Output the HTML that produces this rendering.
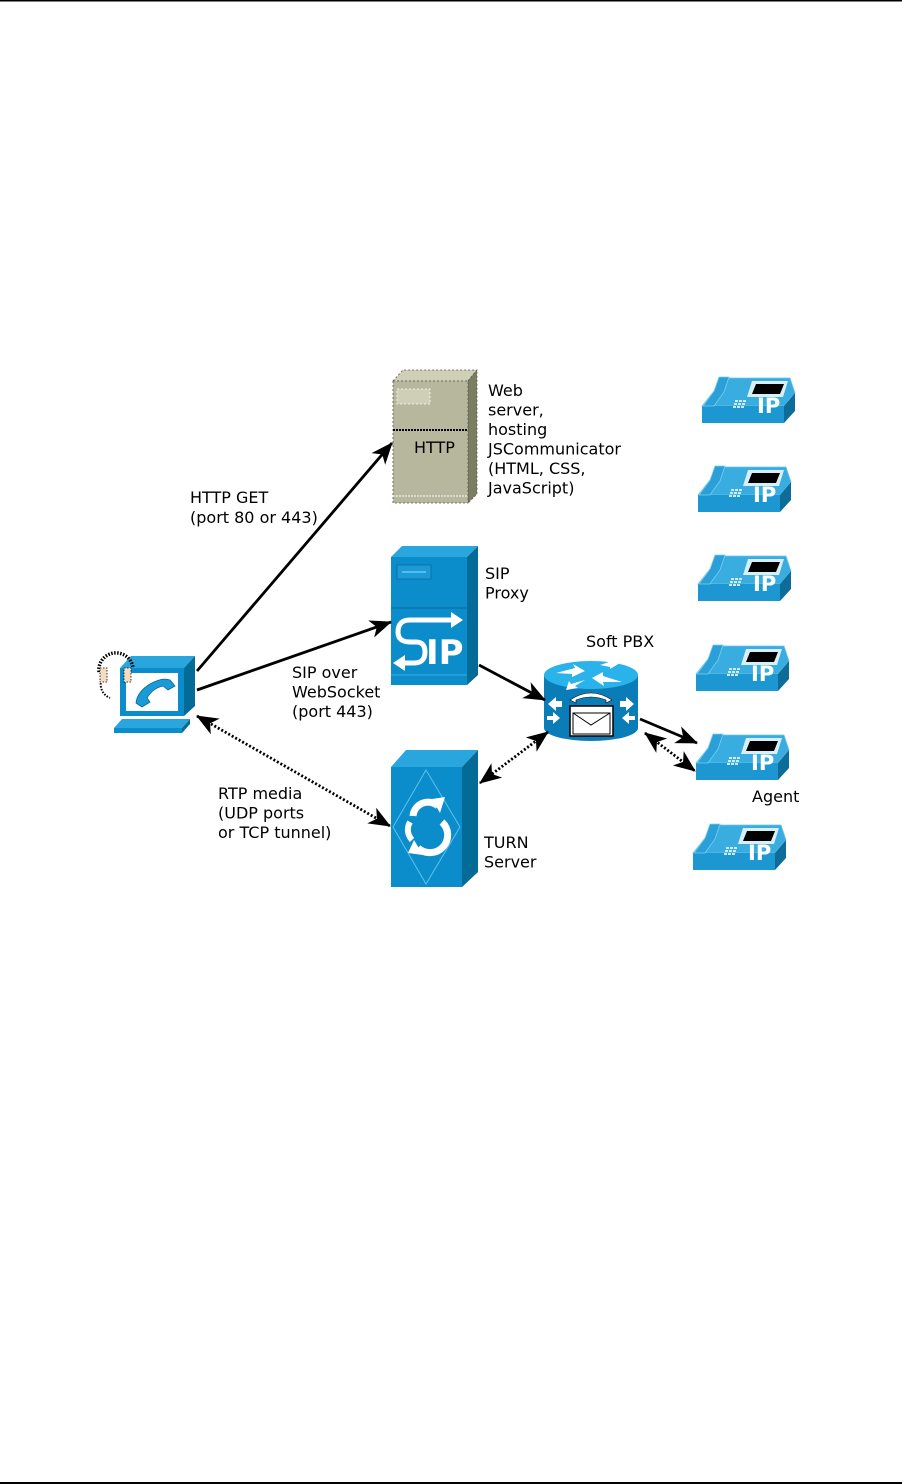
<!DOCTYPE html>
<html><head><meta charset="utf-8"><style>
html,body{margin:0;padding:0;background:#fff;}
svg{display:block;}
text{font-family:"DejaVu Sans","Liberation Sans",sans-serif;font-size:16px;fill:#000;}
</style></head><body>
<svg width="902" height="1484" viewBox="0 0 902 1484" xmlns="http://www.w3.org/2000/svg">
<defs>
<marker id="ah2" markerWidth="24" markerHeight="24" refX="21" refY="12" orient="auto" markerUnits="userSpaceOnUse" viewBox="0 0 24 24">
<path d="M0,3 L22,12 L0,21 L6,12 z" fill="#000"/></marker>
<marker id="as2" markerWidth="24" markerHeight="24" refX="3" refY="12" orient="auto" markerUnits="userSpaceOnUse" viewBox="0 0 24 24">
<path d="M24,3 L2,12 L24,21 L18,12 z" fill="#000"/></marker>
<g id="phone">
<polygon points="0,31 12,16 20,3 88,3 93,18 82,31" fill="#39ace0" stroke="#6cc6ee" stroke-width="0.8"/>
<rect x="0" y="31" width="82" height="17" fill="#1d97d2"/>
<polygon points="82,31 93,18 93,36 82,48" fill="#0e6c98"/>
<polygon points="1,31 12,16 17,2 27,2 22,17 12,31" fill="#2a9fd8" stroke="#7ccff2" stroke-width="0.8"/>
<polygon points="50,6 86,6 81,22 45,22" fill="#d8eef8"/>
<polygon points="54,9 82,9 78,19 50,19" fill="#000"/>
<g fill="#cdeaf7"><rect x="33" y="25" width="3" height="2"/><rect x="37" y="25" width="3" height="2"/><rect x="41" y="25" width="3" height="2"/><rect x="32" y="28" width="3" height="2"/><rect x="36" y="28" width="3" height="2"/><rect x="40" y="28" width="3" height="2"/><rect x="31" y="31" width="3" height="2"/><rect x="35" y="31" width="3" height="2"/><rect x="39" y="31" width="3" height="2"/></g>
<text x="55" y="38" style="font-size:21px;font-weight:bold;fill:#fff">IP</text>
</g>
</defs>

<rect x="0" y="0" width="902" height="1.5" fill="#000"/>
<rect x="0" y="1482" width="902" height="2" fill="#000"/>

<!-- Web server -->
<polygon points="393,381 403,370 477,370 468,381" fill="#cfcfb5" stroke="#555" stroke-width="0.8" stroke-dasharray="2,2"/>
<polygon points="468,381 477,370 477,494 468,503" fill="#7d7d60" stroke="#555" stroke-width="0.8" stroke-dasharray="2,2"/>
<rect x="393" y="381" width="75" height="122" fill="#b7b79d" stroke="#555" stroke-width="0.8" stroke-dasharray="2,2"/>
<rect x="397" y="389" width="33" height="15" fill="#cfcfb8" stroke="#fff" stroke-width="0.8" stroke-dasharray="2,2"/>
<line x1="393" y1="430" x2="468" y2="430" stroke="#000" stroke-width="2" stroke-dasharray="2,1"/>
<line x1="393" y1="496" x2="468" y2="496" stroke="#fff" stroke-width="1" stroke-dasharray="2,1"/>
<text x="414" y="453">HTTP</text>

<!-- SIP proxy -->
<polygon points="391,557 402,546 478,546 467,557" fill="#2aa6df"/>
<polygon points="467,557 478,546 478,675 467,685" fill="#046a96"/>
<rect x="391" y="557" width="76" height="128" fill="#0b8ccb"/>
<line x1="391" y1="608" x2="467" y2="608" stroke="#0a6c9c" stroke-width="1"/>
<line x1="391" y1="675" x2="467" y2="675" stroke="#38aee6" stroke-width="1"/>
<rect x="397" y="565" width="34" height="14" fill="#1a9ad6" stroke="#0a6c9c" stroke-width="0.8"/>
<line x1="402" y1="572" x2="426" y2="572" stroke="#6cc8f0" stroke-width="1.5"/>
<path d="M454,620 L410,620 Q398,620 398,632 Q398,642 410,642 L416,642 Q425,642 425,652 Q425,663 414,663 L402,663" fill="none" stroke="#fff" stroke-width="5"/>
<polygon points="451,612 463,620 451,628" fill="#fff"/>
<polygon points="405,655 393,663 405,671" fill="#fff"/>
<text x="426" y="664" style="font-size:34px;font-weight:bold;fill:#fff">IP</text>

<!-- TURN -->
<polygon points="391,767 406,750 478,750 462,767" fill="#2aa6df"/>
<polygon points="462,767 478,750 478,872 462,887" fill="#046a96"/>
<rect x="391" y="767" width="71" height="120" fill="#0b8ccb"/>
<polygon points="426,770 460,827 426,884 393,827" fill="none" stroke="#5cc3ee" stroke-width="1"/>
<path d="M413,816 A15,15 0 0 1 438,806" fill="none" stroke="#fff" stroke-width="7"/>
<path d="M432,799 L445,797 L440,813 Z" fill="#fff"/>
<path d="M442,822 A15,15 0 0 1 418,848" fill="none" stroke="#fff" stroke-width="7"/>
<path d="M423,855 L408,853 L414,840 Z" fill="#fff"/>
<path d="M410,822 A15,15 0 0 0 412,840" fill="none" stroke="#fff" stroke-width="6"/>

<!-- PBX -->
<path d="M544,675 L544,728 A47,13 0 0 0 638,728 L638,675 Z" fill="#0a7db8"/>
<ellipse cx="591" cy="675" rx="47" ry="14" fill="#2ab2ea"/>
<g fill="#fff">
<polygon points="556,673 575,668 573,664 585,671 572,677 572,674"/>
<polygon points="600,665 612,661 610,658 620,663 610,669 610,667"/>
<polygon points="622,682 603,682 604,686 592,678 603,672 603,676"/>
<polygon points="585,680 575,686 578,688 566,690 569,681 571,684"/>
<polygon points="548,704 556,697 556,701 562,701 562,707 556,707 556,711"/>
<polygon points="634,704 626,697 626,701 620,701 620,707 626,707 626,711"/>
<polygon points="560,718 553,712 553,716 547,716 547,720 553,720 553,724"/>
<polygon points="622,718 629,712 629,716 635,716 635,720 629,720 629,724"/>
</g>
<path d="M570,700 Q591,686 612,700 L606,703 L606,700 Q591,694 576,700 L576,703 Z" fill="#fff" stroke="#000" stroke-width="0.6"/>
<rect x="570" y="706" width="43" height="30" fill="#fff" stroke="#000" stroke-width="1.5"/>
<rect x="573" y="713" width="37" height="21" fill="#fff" stroke="#000" stroke-width="1"/>
<polyline points="573,713 591,725 610,713" fill="none" stroke="#000" stroke-width="1"/>

<!-- laptop -->
<polygon points="120,668 131,656 195,656 184,668" fill="#2aa6df"/>
<polygon points="184,668 195,656 195,706 184,716" fill="#046a96"/>
<rect x="120" y="668" width="64" height="48" fill="#0b8ccb"/>
<rect x="126" y="673" width="52" height="38" fill="#fff"/>
<path d="M136,703 Q137,692 150,684 Q162,677 170,680 L175,686 L168,690 L163,686 Q153,688 147,698 L150,702 L142,707 Z" fill="#1a9ad6" stroke="#046a96" stroke-width="0.8"/>
<polygon points="114,728 122,719 190,719 182,728" fill="#2aa6df"/>
<rect x="114" y="728" width="68" height="5" fill="#0b8ccb"/>
<polygon points="182,728 190,719 190,724 182,733" fill="#046a96"/>
<path d="M99,672 A17,17 0 0 1 133,668" fill="none" stroke="#000" stroke-width="3.5" stroke-dasharray="1.5,1.5"/>
<path d="M101,680 Q99,693 110,698" fill="none" stroke="#000" stroke-width="2" stroke-dasharray="1.5,1.5"/>
<rect x="100" y="668" width="7" height="14" fill="#f3dcc0" stroke="#000" stroke-width="0.8" stroke-dasharray="1.5,1.5"/>
<rect x="124" y="668" width="7" height="14" fill="#f3dcc0" stroke="#000" stroke-width="0.8" stroke-dasharray="1.5,1.5"/>

<!-- phones -->
<use href="#phone" x="702" y="375"/>
<use href="#phone" x="698" y="464"/>
<use href="#phone" x="698" y="553"/>
<use href="#phone" x="696" y="643"/>
<use href="#phone" x="696" y="732"/>
<use href="#phone" x="693" y="822"/>

<!-- connectors -->
<g stroke="#000" stroke-width="2.8" fill="none">
<line x1="197" y1="671" x2="392" y2="443" marker-end="url(#ah2)"/>
<line x1="197" y1="690" x2="391" y2="622" marker-end="url(#ah2)"/>
<line x1="479" y1="665" x2="545" y2="700" marker-end="url(#ah2)"/>
<line x1="640" y1="719" x2="697" y2="743" marker-end="url(#ah2)"/>
</g>
<g stroke="#000" stroke-width="2.8" fill="none" stroke-dasharray="2,2">
<line x1="197" y1="716" x2="390" y2="826" marker-start="url(#as2)" marker-end="url(#ah2)"/>
<line x1="548" y1="732" x2="480" y2="783" marker-start="url(#as2)" marker-end="url(#ah2)"/>
<line x1="645" y1="733" x2="695" y2="771" marker-start="url(#as2)" marker-end="url(#ah2)"/>
</g>

<!-- labels -->
<text x="488" y="396">Web</text>
<text x="488" y="415.5">server,</text>
<text x="488" y="435">hosting</text>
<text x="488" y="454.5">JSCommunicator</text>
<text x="488" y="474">(HTML, CSS,</text>
<text x="488" y="493.5">JavaScript)</text>
<text x="190" y="503">HTTP GET</text>
<text x="190" y="523">(port 80 or 443)</text>
<text x="485" y="579">SIP</text>
<text x="485" y="598.5">Proxy</text>
<text x="586" y="647">Soft PBX</text>
<text x="292" y="678">SIP over</text>
<text x="292" y="697.5">WebSocket</text>
<text x="292" y="717">(port 443)</text>
<text x="218" y="799">RTP media</text>
<text x="218" y="818.5">(UDP ports</text>
<text x="218" y="838">or TCP tunnel)</text>
<text x="752" y="802">Agent</text>
<text x="484" y="848">TURN</text>
<text x="484" y="867.5">Server</text>
</svg>
</body></html>
